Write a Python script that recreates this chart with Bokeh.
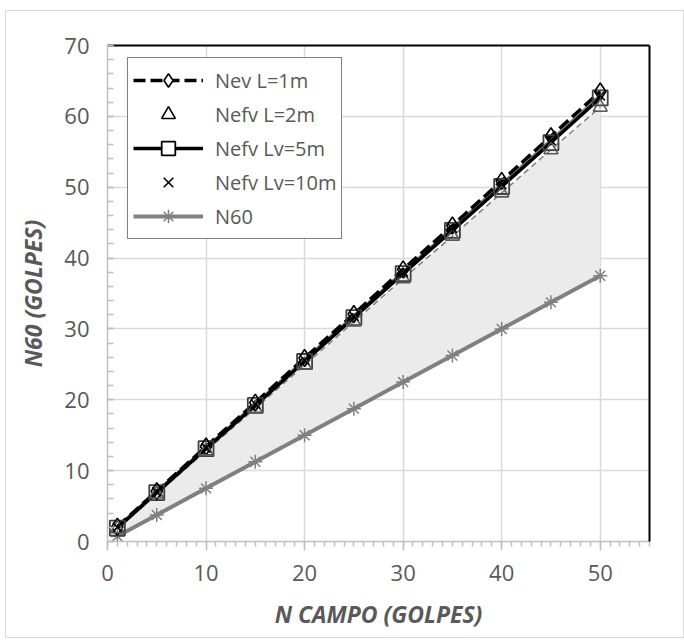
from bokeh.plotting import figure
from bokeh.models import Range1d, FixedTicker, LinearAxis, Legend, LegendItem
from bokeh.embed import file_html
from bokeh.resources import INLINE

# Field blow counts and corrected values
n_campo = [1, 5, 10, 15, 20, 25, 30, 35, 40, 45, 50]
nev_l1 = [2.1, 7.1, 13.4, 19.6, 25.9, 32.1, 38.4, 44.6, 50.9, 57.2, 63.5]
nefv_l2 = [1.8, 6.7, 12.8, 18.8, 24.9, 31.0, 37.1, 43.1, 49.2, 55.3, 61.3]
nefv_lv5 = [1.9, 6.9, 13.1, 19.2, 25.4, 31.6, 37.8, 43.9, 50.1, 56.3, 62.6]
nefv_lv10 = [2.0, 7.0, 13.2, 19.4, 25.6, 31.8, 38.0, 44.2, 50.4, 56.6, 62.9]
n60 = [0.75, 3.75, 7.5, 11.25, 15.0, 18.75, 22.5, 26.25, 30.0, 33.75, 37.5]

x_ticks = [0, 10, 20, 30, 40, 50]
y_ticks = [0, 10, 20, 30, 40, 50, 60, 70]

FONT = "Open Sans"
TXT = "#595959"
GRID = "#d9d9d9"

p = figure(width=679, height=628, x_range=Range1d(0, 55), y_range=Range1d(0, 70),
           output_backend="svg", toolbar_location=None,
           min_border_left=101, min_border_right=36, min_border_top=34, min_border_bottom=98,
           outline_line_color=None, background_fill_color="white", border_fill_color="white")
p.margin = (10, 0, 6, 5)
p.styles = {"border": "1px solid #d9d9d9"}

# shaded band between N60 and the L=2m correction
p.varea(x=n_campo, y1=n60, y2=nefv_l2, fill_color="#ebebeb")

r_n60_line = p.line(n_campo, n60, line_color="#808080", line_width=4)
r_n60_pts = p.scatter(n_campo, n60, marker="asterisk", size=14, line_color="#808080", line_width=1.5)

p.line(n_campo, nefv_l2, line_color="#7f7f7f", line_width=1.5, line_dash="6 4")
p.line(n_campo, nefv_lv10, line_color="#7f7f7f", line_width=3.5)

r_l1_line = p.line(n_campo, nev_l1, line_color="black", line_width=3.5, line_dash="12 5")
r_lv5_line = p.line(n_campo, nefv_lv5, line_color="black", line_width=3.5)

r_lv5_pts = p.scatter(n_campo, nefv_lv5, marker="square", size=15, fill_color="white",
                      fill_alpha=0.0, line_color="#404040", line_width=1.8)
r_l1_pts = p.scatter(n_campo, nev_l1, marker="diamond", size=17, fill_color="white",
                     fill_alpha=0.0, line_color="black", line_width=1.6)
r_l2_pts = p.scatter(n_campo, nefv_l2, marker="triangle", size=14, fill_color=None,
                     line_color="#595959", line_width=1.6)
r_lv10_pts = p.scatter(n_campo, nefv_lv10, marker="x", size=13, line_color="black", line_width=1.6)

# legend swatches: white-filled markers, not drawn in the plot itself
leg_l1 = p.scatter([n_campo[0]], [nev_l1[0]], marker="diamond", fill_color="white",
                   line_color="black", line_width=1.6, visible=False)
leg_lv5 = p.scatter([n_campo[0]], [nefv_lv5[0]], marker="square", fill_color="white",
                    line_color="black", line_width=1.8, visible=False)
leg_l2 = p.scatter([n_campo[0]], [nefv_l2[0]], marker="triangle", fill_color=None,
                   line_color="black", line_width=1.6, visible=False)
leg_lv10 = p.scatter([n_campo[0]], [nefv_lv10[0]], marker="x",
                     line_color="black", line_width=1.6, visible=False)
leg_n60 = p.scatter([n_campo[0]], [n60[0]], marker="asterisk",
                    line_color="#808080", line_width=1.5, visible=False)

legend = Legend(items=[
    LegendItem(label="Nev L=1m", renderers=[r_l1_line, leg_l1]),
    LegendItem(label="Nefv L=2m", renderers=[leg_l2]),
    LegendItem(label="Nefv Lv=5m", renderers=[r_lv5_line, leg_lv5]),
    LegendItem(label="Nefv Lv=10m", renderers=[leg_lv10]),
    LegendItem(label="N60", renderers=[r_n60_line, leg_n60]),
], location=(20, 302))
legend.label_text_font = FONT
legend.label_text_font_size = "20px"
legend.label_text_color = TXT
legend.glyph_width = 70
legend.glyph_height = 34
legend.label_height = 34
legend.spacing = 0
legend.padding = 5
legend.margin = 0
legend.label_standoff = 12
legend.border_line_color = "black"
legend.border_line_width = 1.5
legend.background_fill_alpha = 1.0
p.add_layout(legend, "center")

# axes
for ax in (p.xaxis[0], p.yaxis[0]):
    ax.axis_line_color = "#bfbfbf"
    ax.axis_line_width = 1.5
    ax.major_tick_line_color = "#bfbfbf"
    ax.minor_tick_line_color = "#bfbfbf"
    ax.major_tick_line_width = 1.5
    ax.minor_tick_line_width = 1.5
    ax.major_label_text_font = FONT
    ax.major_label_text_font_size = "22px"
    ax.major_label_text_color = TXT
    ax.axis_label_text_font = FONT
    ax.axis_label_text_font_size = "23px"
    ax.axis_label_text_font_style = "bold italic"
    ax.axis_label_text_color = TXT

p.xaxis[0].ticker = FixedTicker(ticks=x_ticks, minor_ticks=list(range(0, 56)))
p.xaxis[0].major_tick_in = 0
p.xaxis[0].major_tick_out = 9
p.xaxis[0].minor_tick_in = 0
p.xaxis[0].minor_tick_out = 5
p.xaxis[0].major_label_standoff = 14
p.xaxis[0].axis_label = "N CAMPO (GOLPES)"
p.xaxis[0].axis_label_standoff = 14

p.yaxis[0].ticker = FixedTicker(ticks=y_ticks, minor_ticks=list(range(0, 71, 2)))
p.yaxis[0].major_tick_in = 6
p.yaxis[0].major_tick_out = 0
p.yaxis[0].minor_tick_in = 6
p.yaxis[0].minor_tick_out = 0
p.yaxis[0].major_label_standoff = 18
p.yaxis[0].axis_label = "N60 (GOLPES)"
p.yaxis[0].axis_label_standoff = 12

# dark frame on top and right
for side in ("above", "right"):
    ax = LinearAxis(ticker=FixedTicker(ticks=[]), axis_line_color="black", axis_line_width=2,
                    major_tick_out=0, major_tick_in=0, minor_tick_out=0, minor_tick_in=0,
                    major_label_text_font_size="0px")
    p.add_layout(ax, side)

p.xgrid.ticker = FixedTicker(ticks=x_ticks)
p.ygrid.ticker = FixedTicker(ticks=y_ticks)
p.xgrid.grid_line_color = GRID
p.ygrid.grid_line_color = GRID
p.xgrid.grid_line_width = 1.5
p.ygrid.grid_line_width = 1.5

open("out.html", "w").write(file_html(p, INLINE))
